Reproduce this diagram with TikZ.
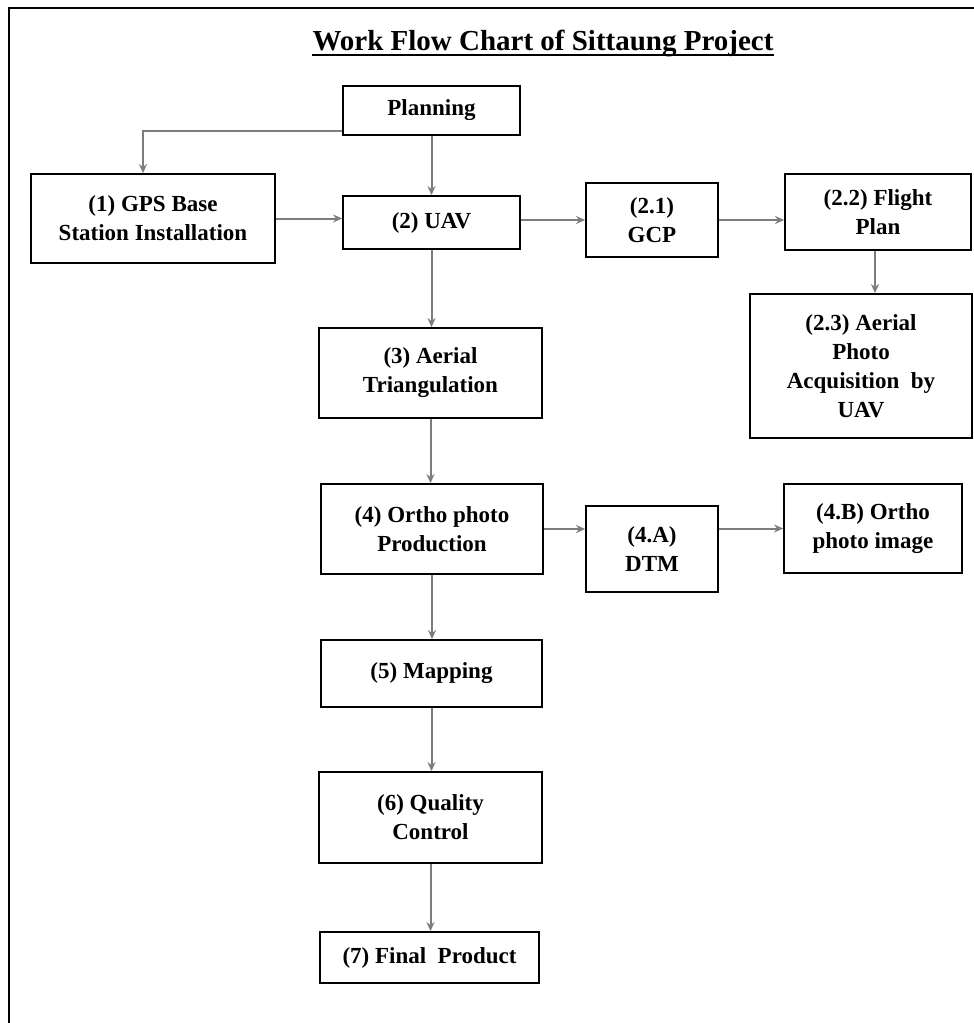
\documentclass[tikz,border=0pt]{standalone}
\usepackage{fontspec}
\setmainfont{Liberation Serif}
\usetikzlibrary{arrows.meta}
\definecolor{arrgray}{RGB}{125,125,125}
\tikzset{
  box/.style={draw=black, line width=1.8pt, fill=white, inner sep=2pt, align=center,
    font=\bfseries\fontsize{23}{29}\selectfont},
  arr/.style={draw=arrgray, line width=2pt, -{Stealth[length=9pt,width=8pt]}},
  frame/.style={draw=black, line width=2.2pt}
}
\begin{document}
\begin{tikzpicture}[x=1pt,y=-1pt]
\useasboundingbox (0,0) rectangle (974,1023);
\fill[white] (0,0) rectangle (974,1023);
\coordinate (fA) at (9,1023);
\coordinate (fB) at (9,8);
\coordinate (fC) at (974,8);
\draw[frame] (fA) -- (fB) -- (fC);

\node[anchor=base, inner sep=0pt, font=\bfseries\fontsize{29}{34}\selectfont] (title) at (543,50) {Work Flow Chart of Sittaung Project};
\draw[line width=1.6pt] ([yshift=-5pt]title.base west) -- ([yshift=-5pt]title.base east);

\node[box, minimum width=177, minimum height=49] (plan) at (431.5,110.5) {Planning};
\node[box, minimum width=244, minimum height=89] (gps) at (153,218.5) {(1) GPS Base\\Station Installation};
\node[box, minimum width=177, minimum height=53] (uav) at (431.5,222.5) {(2) UAV};
\node[box, minimum width=132, minimum height=74] (gcp) at (652,220) {(2.1)\\GCP};
\node[box, minimum width=186, minimum height=76] (flight) at (878,212) {(2.2) Flight\\Plan};
\node[box, minimum width=222, minimum height=144] (aerial) at (861,366) {(2.3) Aerial\\Photo\\Acquisition~~by\\UAV};
\node[box, minimum width=223, minimum height=90] (tri) at (430.5,373) {(3) Aerial\\Triangulation};
\node[box, minimum width=222, minimum height=90] (ortho) at (432,529) {(4) Ortho photo\\Production};
\node[box, minimum width=132, minimum height=86] (dtm) at (652,549) {(4.A)\\DTM};
\node[box, minimum width=178, minimum height=89] (orthoimg) at (873,528.5) {(4.B) Ortho\\photo image};
\node[box, minimum width=221, minimum height=67] (map) at (431.5,673.5) {(5) Mapping};
\node[box, minimum width=223, minimum height=91] (qc) at (430.5,817.5) {(6) Quality\\Control};
\node[box, minimum width=219, minimum height=51] (final) at (429.5,957.5) {(7) Final~~Product};

\coordinate (gpsin) at ([xshift=-10pt]gps.north);
\draw[arr] ([yshift=5pt]plan.south west) -| (gpsin);
\draw[arr] (plan.south) -- (uav.north);
\draw[arr] (gps.east) -- (gps.east -| uav.west);
\draw[arr] (uav.east |- gcp.west) -- (gcp.west);
\draw[arr] (gcp.east) -- (gcp.east -| flight.west);
\draw[arr] ([xshift=-3pt]flight.south) -- ([xshift=-3pt]flight.south |- aerial.north);
\draw[arr] (uav.south) -- (uav.south |- tri.north);
\draw[arr] (tri.south) -- (tri.south |- ortho.north);
\draw[arr] (ortho.east) -- (ortho.east -| dtm.west);
\draw[arr] (dtm.east |- orthoimg.west) -- (orthoimg.west);
\draw[arr] (ortho.south) -- (ortho.south |- map.north);
\draw[arr] (map.south) -- (map.south |- qc.north);
\draw[arr] (qc.south) -- (qc.south |- final.north);
\end{tikzpicture}
\end{document}
